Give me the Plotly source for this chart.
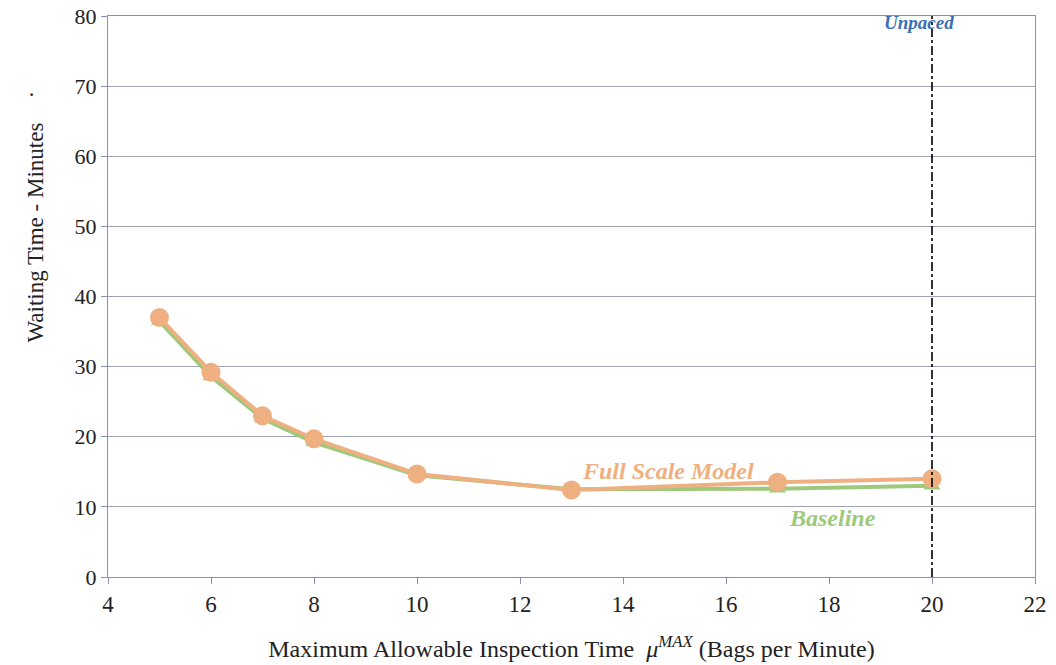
import plotly.graph_objects as go

# Inspection rate limit (bags per minute)
mu_max = [5, 6, 7, 8, 10, 13, 17, 20]

# Mean waiting time (minutes)
full_scale = [37.0, 29.2, 23.0, 19.7, 14.7, 12.4, 13.5, 14.0]
baseline = [36.5, 28.6, 22.6, 19.2, 14.5, 12.5, 12.6, 13.0]

unpaced_x = 20
y_range = [0, 80]

FULL_COLOR = "#EEB080"
BASE_COLOR = "#9DC97C"
FONT = "Liberation Serif"
W, H = 1056, 665
L, R, T, B = 108, 21, 16, 88

fig = go.Figure()

fig.add_trace(go.Scatter(
    x=mu_max, y=baseline, mode="lines+markers", name="Baseline",
    line=dict(color=BASE_COLOR, width=4),
    marker=dict(symbol="triangle-up", size=15, color=BASE_COLOR),
))
fig.add_trace(go.Scatter(
    x=mu_max, y=full_scale, mode="lines+markers", name="Full Scale Model",
    line=dict(color=FULL_COLOR, width=4),
    marker=dict(symbol="circle", size=19, color=FULL_COLOR),
))
fig.add_trace(go.Scatter(
    x=[unpaced_x, unpaced_x], y=y_range, mode="lines", name="Unpaced",
    line=dict(color="black", width=1.6, dash="dashdot"),
))

fig.add_annotation(x=unpaced_x - 0.25, y=79.1, text="<b><i>Unpaced</i></b>", showarrow=False,
                   font=dict(family=FONT, size=19, color="#3A6FB5"), yanchor="middle")
fig.add_annotation(x=14.87, y=15.1, text="<b><i>Full Scale Model</i></b>", showarrow=False,
                   font=dict(family=FONT, size=24, color=FULL_COLOR))
fig.add_annotation(x=18.06, y=8.4, text="<b><i>Baseline</i></b>", showarrow=False,
                   font=dict(family=FONT, size=24, color=BASE_COLOR))

# y-axis title, placed as free text
plot_w = W - L - R
plot_h = H - T - B
def paper_y(px):
    return (H - B - px) / plot_h

fig.add_annotation(xref="paper", yref="paper", x=(20 - L) / plot_w, y=paper_y(233),
                   text="Waiting Time - Minutes", textangle=-90, showarrow=False,
                   font=dict(family=FONT, size=23, color="#222"))
fig.add_annotation(xref="paper", yref="paper", x=(10 - L) / plot_w, y=paper_y(90),
                   text=".", textangle=-90, showarrow=False,
                   font=dict(family=FONT, size=23, color="#222"))

fig.update_layout(
    width=W, height=H,
    margin=dict(l=L, r=R, t=T, b=B, autoexpand=False),
    paper_bgcolor="white", plot_bgcolor="white",
    showlegend=False,
    font=dict(family=FONT, size=22, color="#222"),
)
fig.update_xaxes(
    range=[4, 22], tickmode="linear", tick0=4, dtick=2,
    showgrid=False, zeroline=False, automargin=False,
    showline=True, linecolor="#8A8FB8", linewidth=1, mirror=True,
    ticks="outside", ticklen=6, tickcolor="#8A8FB8",
    tickfont=dict(family=FONT, size=23),
    title=dict(text="Maximum Allowable Inspection Time  <i>μ</i><sup><i>MAX</i></sup> (Bags per Minute)",
               font=dict(family=FONT, size=24), standoff=24),
)
fig.update_yaxes(
    range=y_range, tickmode="linear", tick0=0, dtick=10,
    showgrid=True, gridcolor="#A0A2B4", gridwidth=1, zeroline=False, automargin=False,
    showline=True, linecolor="#8A8FB8", linewidth=1, mirror=True,
    ticks="outside", ticklen=6, tickcolor="#8A8FB8",
    tickfont=dict(family=FONT, size=22),
)

fig.write_html("out.html")
